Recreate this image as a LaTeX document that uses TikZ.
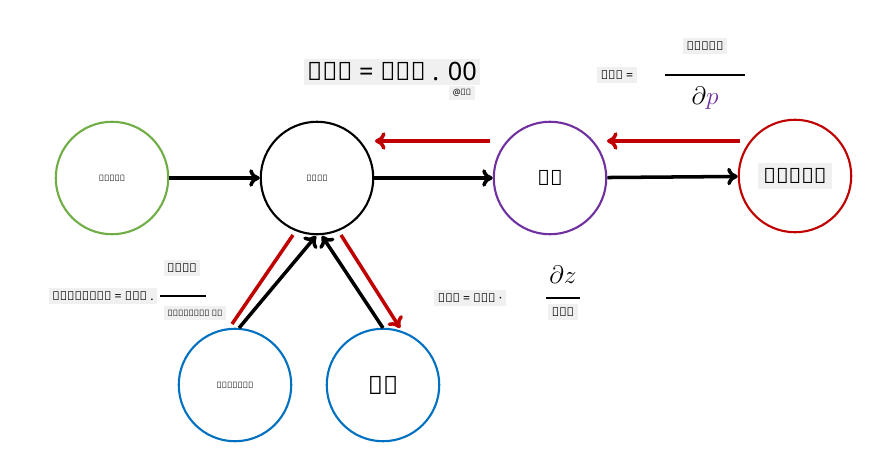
\documentclass[tikz,border=0pt]{standalone}
\usepackage{fontspec}
\setmainfont{Noto Sans}
\usetikzlibrary{arrows.meta}
\definecolor{cgreen}{RGB}{112,173,71}
\definecolor{cblue}{RGB}{0,112,192}
\definecolor{cpurple}{RGB}{112,48,160}
\definecolor{cred}{RGB}{192,0,0}
\tikzset{
  unit/.style={circle,very thick,minimum size=2.25cm,inner sep=0pt},
  lbl/.style={fill=gray!12,inner sep=2pt},
  fwd/.style={line width=2pt,-{To[length=6pt,width=10pt]}},
  bwd/.style={cred,line width=2pt,-{To[length=6pt,width=10pt]}}
}
\begin{document}
\begin{tikzpicture}[x={(0.02cm,0)},y={(0,-0.02cm)}]
\useasboundingbox (0,0) rectangle (872,476);

% units
\node[unit,draw=cgreen] (x) at (112,178) {\tiny ఎక్స్};
\node[unit,draw=black] (z) at (317,178) {\tiny జెడ్};
\node[unit,draw=cpurple] (p) at (550,178) {\large వీ};
\node[unit,draw=cred] (loss) at (795,176) {\large\colorbox{gray!12}{నష్టం}};
\node[unit,draw=cblue] (w) at (235,385) {\tiny డబ్ల్యూ};
\node[unit,draw=cblue] (b) at (383,385) {\Large బ్};

% backward pass
\coordinate (lr) at (740,141);
\coordinate (pr) at (490,141);
\draw[bwd] (lr) -- (607,141);
\draw[bwd] (pr) -- (375,141);
\draw[cred,line width=2pt] (293,235) -- (232,324);
\draw[bwd] (341,235) -- (400,328);

% forward pass
\draw[fwd] (x) -- (z);
\draw[fwd] (z) -- (p);
\draw[fwd] (p) -- (loss);
\coordinate (wt) at (239,328);
\coordinate (bt) at (383,328);
\draw[fwd] (wt) -- (316,236);
\draw[fwd] (bt) -- (322,236);

% labels
\node[lbl,font=\Large\bfseries] (gz) at (392,72) {అజ్ = అవి . 00};
\node[lbl,font=\tiny] (gzs) at (462,93) {@జ్};
\node[lbl,font=\scriptsize] (gp) at (617,75) {అవి =};
\node[lbl,font=\scriptsize] (gpn) at (705,46) {నష్టం};
\draw[thick] (665,75) -- (745,75);
\node (gpd) at (705,98) {\Large$\partial\textcolor{cpurple}{p}$};
\node[lbl,font=\scriptsize] (gw) at (103,296) {ఏడబ్ల్యూ = అజ్ .};
\node[lbl,font=\scriptsize] (gwn) at (182,268) {రెజ్};
\draw[thick] (160,296) -- (206,296);
\node[lbl,font=\tiny] (gwd) at (195,313) {ఏడబ్ల్యూ వి};
\node[lbl,font=\scriptsize] (gb) at (470,298) {అబ్ = అజ్ ·};
\node (gbn) at (563,275) {\Large$\partial z$};
\draw[thick] (546,298) -- (580,298);
\node[lbl,font=\scriptsize] (gbd) at (563,312) {అబ్};
\end{tikzpicture}
\end{document}
